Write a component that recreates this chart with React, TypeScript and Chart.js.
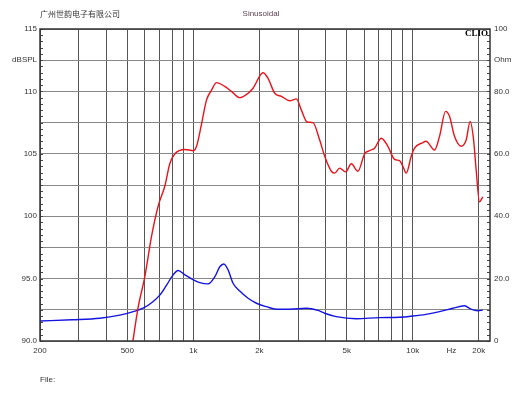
import React, { useEffect, useRef } from "react";
import { Chart, registerables } from "chart.js";

Chart.register(...registerables);

// ---- data ----
const splFreq = [525, 561, 601, 645, 691, 741, 781, 824, 915, 1000, 1034, 1090, 1148, 1210, 1275, 1390, 1492, 1628, 1776, 1871, 2078, 2190, 2350, 2520, 2750, 2950, 3108, 3300, 3510, 3766, 3969, 4256, 4406, 4645, 4946, 5249, 5626, 6034, 6360, 6700, 7188, 7704, 8264, 8710, 9016, 9343, 9844, 10194, 11120, 11500, 12570, 13250, 14110, 14710, 15500, 16630, 17520, 18270, 18920, 19460, 20150, 20860];
const splDb = [89.5, 92.75, 95.15, 98.4, 100.8, 102.4, 104.2, 105.0, 105.35, 105.25, 105.6, 107.4, 109.3, 110.1, 110.7, 110.4, 110.0, 109.5, 109.85, 110.25, 111.5, 111.05, 109.85, 109.6, 109.25, 109.4, 108.5, 107.55, 107.5, 106.1, 104.8, 103.6, 103.45, 103.85, 103.55, 104.2, 103.6, 105.0, 105.25, 105.45, 106.25, 105.6, 104.55, 104.45, 104.0, 103.45, 104.8, 105.45, 105.9, 106.0, 105.3, 106.4, 108.4, 108.0, 106.4, 105.6, 106.1, 107.6, 106.2, 103.7, 101.15, 101.55];

const impFreq = [200, 280, 375, 462, 532, 590, 654, 703, 755, 807, 852, 915, 1000, 1070, 1167, 1253, 1320, 1377, 1440, 1517, 1628, 1776, 1940, 2153, 2391, 2750, 3280, 3698, 3969, 4485, 5530, 7063, 8710, 10010, 11500, 13250, 15230, 17210, 18430, 19850, 20860];
const impOhm = [6.4, 6.8, 7.3, 8.3, 9.4, 10.5, 12.6, 14.7, 17.9, 21.1, 22.6, 21.2, 19.6, 18.7, 18.3, 20.6, 23.8, 24.7, 22.8, 18.5, 16.0, 13.7, 12.1, 11.0, 10.2, 10.2, 10.5, 9.8, 8.9, 7.8, 7.15, 7.5, 7.6, 8.0, 8.55, 9.4, 10.5, 11.3, 10.2, 9.7, 9.9];

const xGridValues = [200, 300, 400, 500, 600, 700, 800, 900, 1000, 2000, 3000, 4000, 5000, 6000, 7000, 8000, 9000, 10000, 15000, 20000];
const xLabelValues = [200, 500, 1000, 2000, 5000, 10000, 15000, 20000];
const xLabelTexts = ["200", "500", "1k", "2k", "5k", "10k", "Hz", "20k"];

const leftGridValues = [90, 92.5, 95, 97.5, 100, 102.5, 105, 107.5, 110, 112.5, 115];
const leftLabelValues = [90, 95, 100, 105, 110, 112.5, 115];
const leftLabelTexts = ["90.0", "95.0", "100", "105", "110", "dBSPL", "115"];

const rightTickValues = [0, 10, 20, 30, 40, 50, 60, 70, 80, 90, 100];
const rightLabelValues = [0, 20, 40, 60, 80, 90, 100];
const rightLabelTexts = ["0", "20.0", "40.0", "60.0", "80.0", "Ohm", "100"];

const titleLeft = "广州世韵电子有限公司";
const titleCenter = "Sinusoidal";
const brand = "CLIO";
const footer = "File:";

const FONT = "'Liberation Sans', Arial, sans-serif";
const TXT = "#333";

const labelFor = (vals: number[], texts: string[], v: number) => {
  const i = vals.findIndex((x) => Math.abs(x - v) < 1e-6);
  return i >= 0 ? texts[i] : "";
};

const decorPlugin = {
  id: "decor",
  afterDraw(chart: any) {
    const { ctx, chartArea: a, scales } = chart;
    ctx.save();
    // minor ticks
    ctx.strokeStyle = "#444";
    ctx.lineWidth = 1;
    const yl = scales.y;
    for (let v = 90; v <= 115.001; v += 0.5) {
      const p = Math.round(yl.getPixelForValue(v)) + 0.5;
      ctx.beginPath();
      ctx.moveTo(a.left, p);
      ctx.lineTo(a.left + 3, p);
      ctx.stroke();
    }
    const yr = scales.y1;
    for (let v = 0; v <= 100.001; v += 2) {
      const p = Math.round(yr.getPixelForValue(v)) + 0.5;
      ctx.beginPath();
      ctx.moveTo(a.right - 3, p);
      ctx.lineTo(a.right, p);
      ctx.stroke();
    }
    // frame
    ctx.strokeStyle = "#333";
    ctx.lineWidth = 1.5;
    ctx.strokeRect(a.left, a.top, a.right - a.left, a.bottom - a.top);
    // texts
    ctx.fillStyle = TXT;
    ctx.textBaseline = "middle";
    ctx.font = "8px 'Noto Sans CJK SC', sans-serif";
    ctx.textAlign = "left";
    ctx.fillText(titleLeft, 40, 14);
    ctx.font = `8px ${FONT}`;
    ctx.fillStyle = "#5a4050";
    ctx.textAlign = "center";
    ctx.fillText(titleCenter, 261, 14);
    ctx.fillStyle = TXT;
    ctx.textAlign = "left";
    ctx.fillText(footer, 40, 380);
    ctx.fillStyle = "#000";
    ctx.font = "bold 9px 'Liberation Serif', serif";
    ctx.textAlign = "right";
    ctx.fillText(brand, a.right - 2, a.top + 5);
    ctx.restore();
  },
};

export default function App() {
  const ref = useRef<HTMLCanvasElement | null>(null);
  useEffect(() => {
    if (!ref.current) return;
    const chart = new Chart(ref.current, {
      type: "line",
      data: {
        datasets: [
          {
            label: "SPL",
            data: splFreq.map((f, i) => ({ x: f, y: splDb[i] })),
            borderColor: "#e8141c",
            borderWidth: 1.4,
            pointRadius: 0,
            tension: 0.4,
            cubicInterpolationMode: "monotone",
            yAxisID: "y",
            fill: false,
          },
          {
            label: "Impedance",
            data: impFreq.map((f, i) => ({ x: f, y: impOhm[i] })),
            borderColor: "#1414e0",
            borderWidth: 1.4,
            pointRadius: 0,
            cubicInterpolationMode: "monotone",
            yAxisID: "y1",
            fill: false,
          },
        ],
      },
      options: {
        responsive: false,
        animation: false,
        layout: { padding: { left: 0, right: 0, top: 29, bottom: 37 } },
        plugins: { legend: { display: false }, tooltip: { enabled: false }, title: { display: false } },
        scales: {
          x: {
            type: "logarithmic",
            min: 200,
            max: 22500,
            afterBuildTicks: (s: any) => {
              s.ticks = xGridValues.map((v) => ({ value: v }));
            },
            afterFit: (s: any) => {
              s.height = 20;
            },
            ticks: {
              autoSkip: false,
              maxRotation: 0,
              padding: 5,
              color: TXT,
              font: { family: FONT, size: 8 },
              callback: (v: any) => labelFor(xLabelValues, xLabelTexts, Number(v)),
            },
            grid: {
              drawTicks: false,
              lineWidth: 1,
              color: (c: any) => (c.tick && c.tick.value === 15000 ? "rgba(0,0,0,0)" : "#555"),
            },
            border: { display: false },
          },
          y: {
            position: "left",
            min: 90,
            max: 115,
            afterBuildTicks: (s: any) => {
              s.ticks = leftGridValues.map((v) => ({ value: v }));
            },
            afterFit: (s: any) => {
              s.width = 40;
            },
            ticks: {
              autoSkip: false,
              padding: 3,
              color: TXT,
              font: { family: FONT, size: 8 },
              callback: (v: any) => labelFor(leftLabelValues, leftLabelTexts, Number(v)),
            },
            grid: { drawTicks: false, color: "#888", lineWidth: 1 },
            border: { display: false },
          },
          y1: {
            position: "right",
            min: 0,
            max: 100,
            afterBuildTicks: (s: any) => {
              s.ticks = rightTickValues.map((v) => ({ value: v }));
            },
            afterFit: (s: any) => {
              s.width = 40;
            },
            ticks: {
              autoSkip: false,
              padding: 4,
              color: TXT,
              font: { family: FONT, size: 8 },
              callback: (v: any) => labelFor(rightLabelValues, rightLabelTexts, Number(v)),
            },
            grid: { display: false, drawTicks: false },
            border: { display: false },
          },
        },
      },
      plugins: [decorPlugin],
    } as any);
    return () => chart.destroy();
  }, []);
  return (
    <div style={{ position: "fixed", left: 0, top: 0, width: 530, height: 398, background: "#fff" }}>
      <canvas ref={ref} width={530} height={398} style={{ width: 530, height: 398, display: "block" }} />
    </div>
  );
}
